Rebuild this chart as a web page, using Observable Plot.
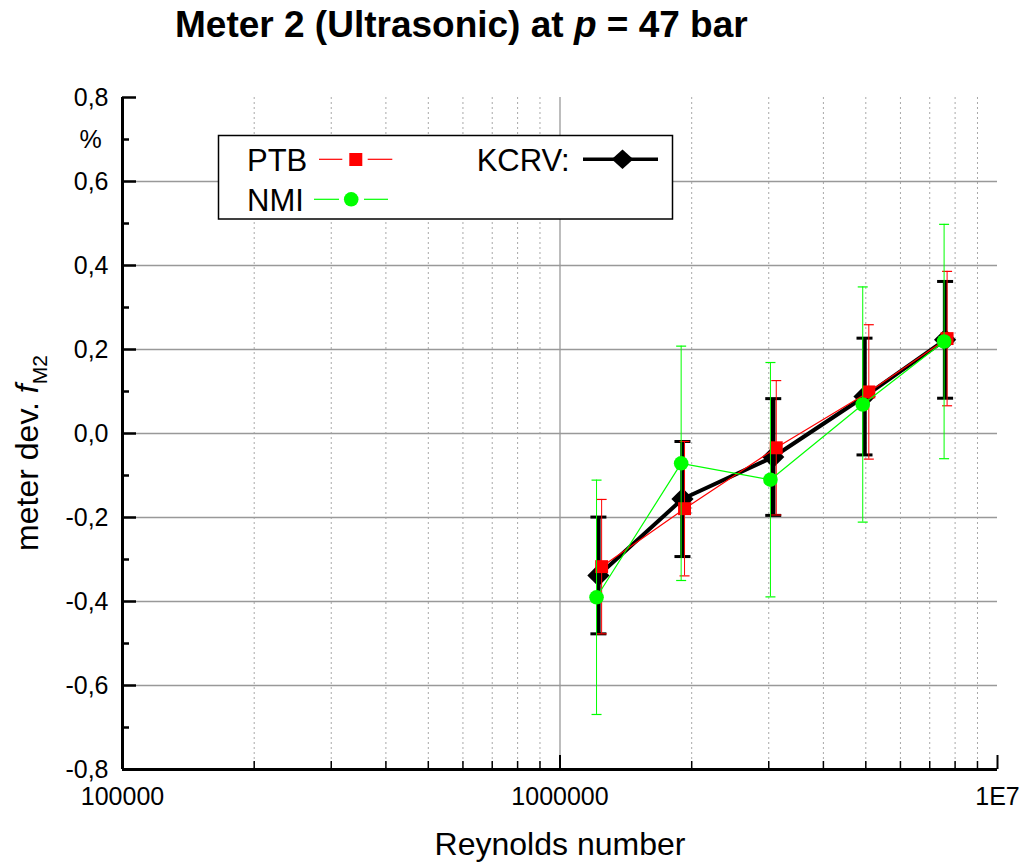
<!DOCTYPE html>
<html><head><meta charset="utf-8">
<script src="https://cdn.jsdelivr.net/npm/d3@7"></script>
<script src="https://cdn.jsdelivr.net/npm/@observablehq/plot@0.6"></script>
<style>
html,body{margin:0;padding:0;background:#fff;}
#wrap{position:relative;width:1023px;height:862px;overflow:hidden;font-family:"Liberation Sans",Arial,sans-serif;}
#title{position:absolute;left:175px;top:6px;font-size:37px;line-height:37px;font-weight:bold;white-space:nowrap;color:#000;}
#chart{position:absolute;left:0;top:60px;}
</style></head><body>
<div id="wrap"><div id="title">Meter 2 (Ultrasonic) at <i>p</i> = 47 bar</div><div id="chart"></div></div>
<script>
// ---- data ----
const kcrvRe  = [1.224e6, 1.905e6, 3.072e6, 4.966e6, 7.59e6];
const kcrvDev = [-0.338, -0.156, -0.056, 0.088, 0.223];
const kcrvU   = [0.139, 0.137, 0.139, 0.139, 0.139];

const ptbRe  = [1.245e6, 1.926e6, 3.121e6, 5.08e6, 7.67e6];
const ptbDev = [-0.317, -0.179, -0.034, 0.099, 0.226];
const ptbU   = [0.16, 0.16, 0.16, 0.16, 0.16];

const nmiRe  = [1.212e6, 1.892e6, 3.027e6, 4.92e6, 7.55e6];
const nmiDev = [-0.390, -0.071, -0.110, 0.069, 0.219];
const nmiU   = [0.279, 0.279, 0.279, 0.28, 0.279];

const xTickValues = [1e5, 1e6, 1e7];
const xTickLabels = ["100000", "1000000", "1E7"];
const xMinor = [2e5,3e5,4e5,5e5,6e5,7e5,8e5,9e5,2e6,3e6,4e6,5e6,6e6,7e6,8e6,9e6];
const yTickValues = [-0.8,-0.6,-0.4,-0.2,0,0.2,0.4,0.6,0.8];
const yMinor = [-0.7,-0.5,-0.3,-0.1,0.1,0.3,0.5,0.7];
const yGrid = [-0.6,-0.4,-0.2,0,0.2,0.4,0.6];
const unitLabel = "%";

// ---- layout ----
const W = 1023, H = 802;
const mL = 122, mR = 26, mT = 37, mB = 93;
const plotW = W - mL - mR, plotH = H - mT - mB;
const FONT = "Liberation Sans, Arial, sans-serif";

const hbar = {draw(ctx, size){ const r = Math.sqrt(size/Math.PI); ctx.moveTo(-r,0); ctx.lineTo(r,0);} };
const rows = (re, dev, u) => re.map((r,i)=>({re:r, dev:dev[i], lo:dev[i]-u[i], hi:dev[i]+u[i]}));
const kcrv = rows(kcrvRe, kcrvDev, kcrvU);
const ptb = rows(ptbRe, ptbDev, ptbU);
const nmi = rows(nmiRe, nmiDev, nmiU);

function series(data, color, lw, symbol, r, capR, barW, capW) {
  return [
    Plot.ruleX(data, {x:"re", y1:"lo", y2:"hi", stroke:color, strokeWidth:barW}),
    Plot.dot(data, {x:"re", y:"lo", symbol:hbar, r:capR, stroke:color, fill:"none", strokeWidth:capW}),
    Plot.dot(data, {x:"re", y:"hi", symbol:hbar, r:capR, stroke:color, fill:"none", strokeWidth:capW}),
    Plot.line(data, {x:"re", y:"dev", stroke:color, strokeWidth:lw}),
    Plot.dot(data, {x:"re", y:"dev", symbol, r, fill:color, stroke:"none"})
  ];
}

const plot = Plot.plot({
  width: W, height: H,
  marginLeft: mL, marginRight: mR, marginTop: mT, marginBottom: mB,
  style: {background:"white", fontFamily: FONT, fontSize:"25px", overflow:"visible", color:"black"},
  x: {type:"log", domain:[1e5, 1e7], axis:null, label:null},
  y: {domain:[-0.8, 0.8], axis:null, label:null},
  marks: [
    Plot.ruleX(xMinor, {stroke:"#a8a8a8", strokeWidth:1, strokeDasharray:"2,3"}),
    Plot.ruleX([1e6], {stroke:"#999", strokeWidth:1.3}),
    Plot.ruleY(yGrid, {stroke:"#999", strokeWidth:1.3}),
    Plot.tickX([1e6, 1e7], {insetTop: plotH - 14, stroke:"black", strokeWidth:2}),
    Plot.tickX(xMinor, {insetTop: plotH - 8, stroke:"black", strokeWidth:1.5}),
    Plot.tickY(yTickValues, {insetRight: plotW - 14, stroke:"black", strokeWidth:2.5}),
    Plot.tickY(yMinor, {insetRight: plotW - 7, stroke:"black", strokeWidth:2.5}),
    Plot.ruleX([1e5], {stroke:"black", strokeWidth:3}),
    Plot.ruleY([-0.8], {stroke:"black", strokeWidth:3}),
    Plot.axisX({ticks: xTickValues, tickFormat: d => xTickLabels[xTickValues.indexOf(d)], tickSize:0, tickPadding:18, fontSize:25, label:null}),
    Plot.axisY({ticks: yTickValues, tickFormat: d => d.toFixed(1).replace(".", ","), tickSize:0, tickPadding:14, fontSize:25, label:null}),
    Plot.text([0.7], {y: d => d, text: () => unitLabel, frameAnchor:"left", dx:-32, textAnchor:"middle", fontSize:25}),
    ...series(kcrv, "black", 4, "diamond2", 10, 8, 4.5, 3),
    ...series(ptb, "#ff0000", 1.2, "square", 7.3, 5, 1, 1.2),
    ...series(nmi, "#00ff00", 1.2, "circle", 7.3, 5, 1, 1.2)
  ]
});
document.getElementById("chart").appendChild(plot);

// ---- axis titles & legend ----
const svg = d3.select(plot);
const yl = svg.append("text").attr("transform","translate(38,393) rotate(-90)")
  .attr("text-anchor","middle").attr("font-size",32).attr("font-family",FONT).attr("fill","black");
yl.append("tspan").text("meter dev. ");
yl.append("tspan").attr("font-style","italic").text("f");
yl.append("tspan").attr("font-size",21).attr("dy",9).text("M2");

svg.append("text").attr("x",560).attr("y",795).attr("text-anchor","middle")
  .attr("font-size",32).attr("font-family",FONT).attr("fill","black").text("Reynolds number");

const lg = svg.append("g").attr("font-family",FONT).attr("font-size",31).attr("fill","black").attr("text-anchor","start");
lg.append("rect").attr("x",218.5).attr("y",75.5).attr("width",454).attr("height",83.5)
  .attr("fill","white").attr("stroke","black").attr("stroke-width",1.5);
lg.append("text").attr("x",247).attr("y",110.7).attr("text-anchor","start").text("PTB");
lg.append("text").attr("x",247).attr("y",150.7).attr("text-anchor","start").text("NMI");
lg.append("text").attr("x",476.7).attr("y",110.7).attr("text-anchor","start").text("KCRV:");
// PTB sample
lg.append("line").attr("x1",319).attr("x2",342.3).attr("y1",99.3).attr("y2",99.3).attr("stroke","#ff0000").attr("stroke-width",1.2);
lg.append("line").attr("x1",367.7).attr("x2",392.3).attr("y1",99.3).attr("y2",99.3).attr("stroke","#ff0000").attr("stroke-width",1.2);
lg.append("rect").attr("x",349.3).attr("y",93).attr("width",13).attr("height",13).attr("fill","#ff0000");
// NMI sample
lg.append("line").attr("x1",314).attr("x2",339).attr("y1",139.3).attr("y2",139.3).attr("stroke","#00ff00").attr("stroke-width",1.2);
lg.append("line").attr("x1",364).attr("x2",388).attr("y1",139.3).attr("y2",139.3).attr("stroke","#00ff00").attr("stroke-width",1.2);
lg.append("circle").attr("cx",351.2).attr("cy",139.3).attr("r",7.3).attr("fill","#00ff00");
// KCRV sample
lg.append("line").attr("x1",583).attr("x2",658).attr("y1",99.3).attr("y2",99.3).attr("stroke","black").attr("stroke-width",3.5);
lg.append("path").attr("d","M622.5,89.6L633.3,99.3L622.5,109L611.7,99.3Z").attr("fill","black");
</script>
</body></html>
